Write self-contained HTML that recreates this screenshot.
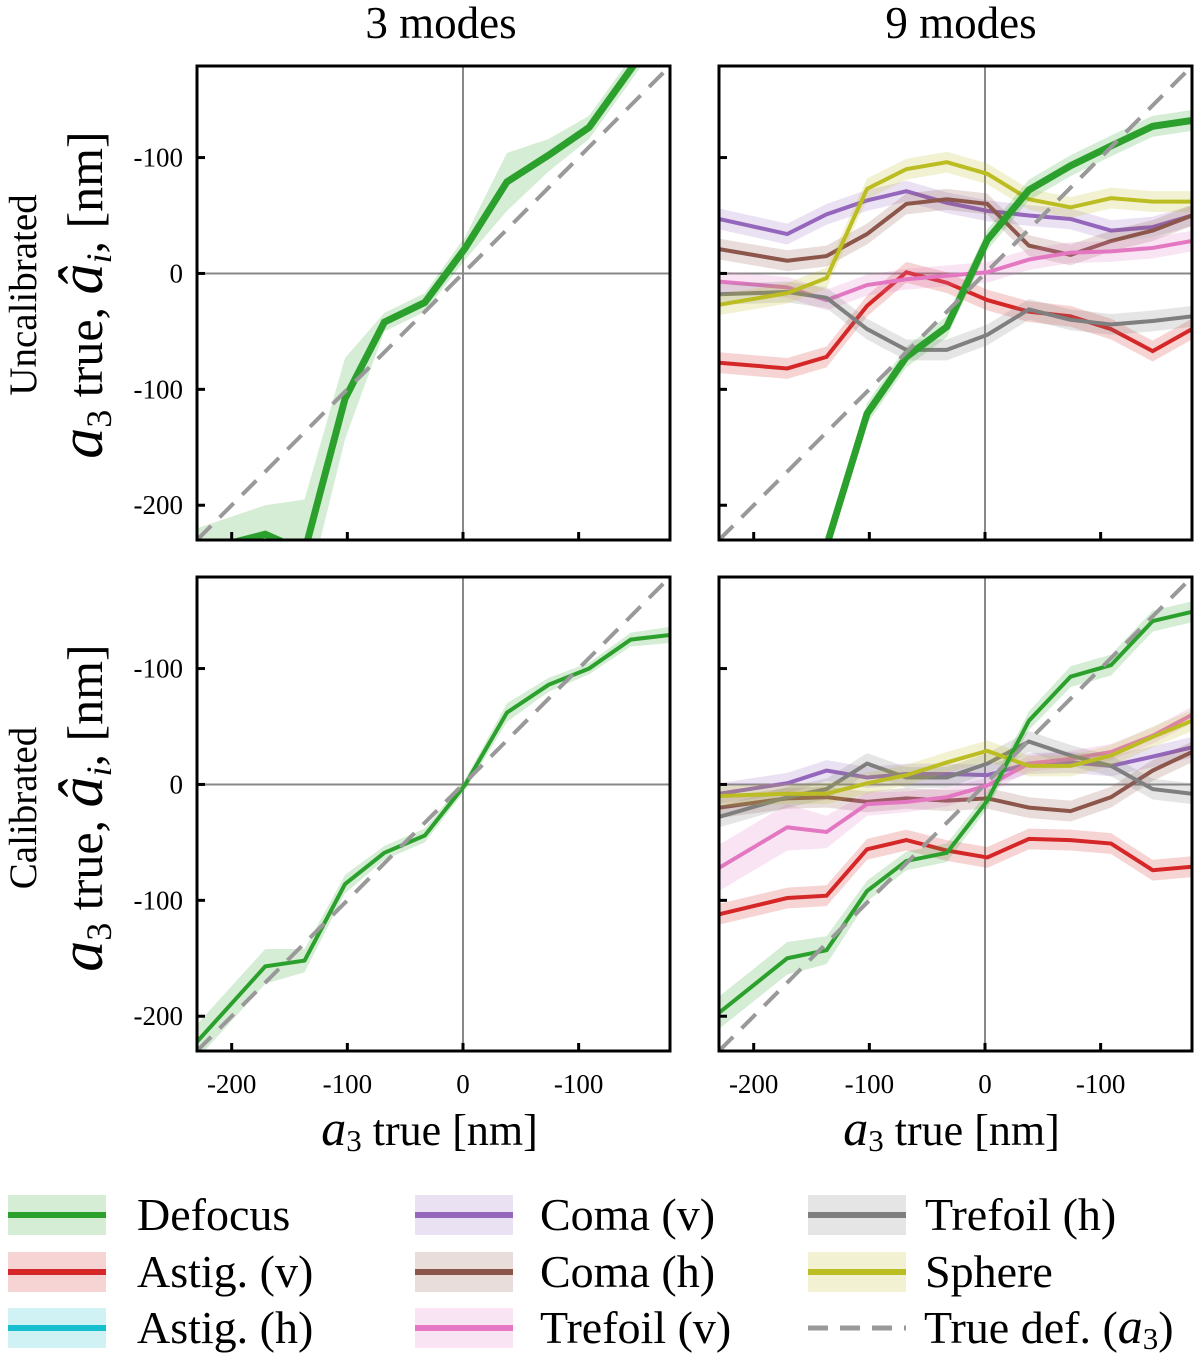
<!DOCTYPE html>
<html><head><meta charset="utf-8">
<style>
body{margin:0;background:#fff;}
svg{display:block;font-family:"Liberation Serif",serif;}
</style></head>
<body>
<svg id="fig" width="1200" height="1357" viewBox="0 0 1200 1357"></svg>
<script>
const xs = [-230,-171,-137,-102,-68,-33,2,38,74,109,145,179];
const xTickVals = [-200,-100,0,100];
const xTickLabels = ["-200","-100","0","-100"];
const yTickVals = [100,0,-100,-200];
const yTickLabels = ["-100","0","-100","-200"];
// Top-left (3 modes, uncalibrated)
const tl_defocus = [-240,-225,-240,-108,-42,-25,22,79,102,126,176,225];
const tl_defocus_sd = [20,25,45,35,8,8,10,25,14,10,10,10];
// Bottom-left (3 modes, calibrated)
const bl_defocus = [-222,-157,-152,-86,-59,-44,0,62,86,100,125,129];
const bl_defocus_sd = [15,15,10,8,6,6,5,8,6,5,6,7];
// Top-right (9 modes, uncalibrated)
const tr_defocus = [-400,-330,-235,-121,-72,-46,29,72,93,110,127,132];
const tr_astigv = [-77,-82,-72,-28,1,-8,-23,-33,-37,-48,-67,-48];
const tr_comav = [47,34,51,63,71,61,54,50,47,37,40,50];
const tr_comah = [21,11,15,34,60,64,60,24,16,28,37,50];
const tr_trefv = [-7,-12,-23,-10,-5,-2,1,12,18,19,22,28];
const tr_trefh = [-18,-16,-21,-48,-66,-66,-53,-31,-40,-44,-41,-37];
const tr_sphere = [-27,-17,-4,73,90,96,86,64,57,65,62,62];
// Bottom-right (9 modes, calibrated)
const br_defocus = [-197,-150,-143,-92,-66,-59,-14,55,93,103,141,149];
const br_astigv = [-112,-98,-96,-56,-48,-57,-63,-47,-48,-51,-74,-71];
const br_comav = [-8,1,12,6,9,9,8,18,19,16,24,32];
const br_comah = [-20,-12,-11,-15,-12,-14,-12,-20,-23,-11,12,28];
const br_trefv = [-72,-37,-41,-17,-15,-11,-1,18,22,28,42,60];
const br_trefh = [-28,-11,-4,18,6,6,18,37,25,16,-4,-8];
const br_sphere = [-10,-8,-8,1,8,19,29,16,16,25,41,55];
const sdSmall = [9,9,9,9,9,9,9,9,9,9,9,9];

const C = {def:"#2ca02c",av:"#d62728",ah:"#17becf",cv:"#9467bd",ch:"#8c564b",tv:"#e377c2",th:"#7f7f7f",sp:"#bcbd22"};
const NS="http://www.w3.org/2000/svg";
const svg=document.getElementById('fig');
function mk(tag,attrs,parent){const e=document.createElementNS(NS,tag);for(const k in attrs)e.setAttribute(k,attrs[k]);(parent||svg).appendChild(e);return e;}

const DMIN=-230,DMAX=179;
const panels=[
 {id:"tl",x0:197,y0:66,series:[["def",tl_defocus,tl_defocus_sd,7]]},
 {id:"tr",x0:719,y0:66,series:[["av",tr_astigv,sdSmall,4],["cv",tr_comav,sdSmall,4],["ch",tr_comah,sdSmall,4],["tv",tr_trefv,sdSmall,4],["th",tr_trefh,sdSmall,4],["sp",tr_sphere,sdSmall,4],["def",tr_defocus,sdSmall,7]]},
 {id:"bl",x0:197,y0:577,series:[["def",bl_defocus,bl_defocus_sd,4]]},
 {id:"br",x0:719,y0:577,series:[["av",br_astigv,sdSmall,4],["cv",br_comav,sdSmall,4],["ch",br_comah,sdSmall,4],["tv",br_trefv,[20,20,14,10,9,8,7,7,7,7,7,7],4],["th",br_trefh,sdSmall,4],["sp",br_sphere,sdSmall,4],["def",br_defocus,[14,14,12,9,8,8,7,8,9,9,9,9],4]]}
];
const W=473,H=474;
panels.forEach(p=>{
  const sx=v=>p.x0+(v-DMIN)/(DMAX-DMIN)*W;
  const sy=v=>p.y0+H-(v-DMIN)/(DMAX-DMIN)*H;
  const g=mk('g',{});
  
  
  const cp=mk('clipPath',{id:'clip-'+p.id},g);
  mk('rect',{x:p.x0,y:p.y0,width:W,height:H},cp);
  const inner=mk('g',{'clip-path':'url(#clip-'+p.id+')'},g);
  const zx=mk('line',{x1:sx(0),x2:sx(0),y1:p.y0,y2:p.y0+H,stroke:"#888","stroke-width":2},inner);
  
  const zy=mk('line',{x1:p.x0,x2:p.x0+W,y1:sy(0),y2:sy(0),stroke:"#888","stroke-width":2},inner);
  
  p.series.forEach(([k,vals,sd,lw])=>{
    let up=xs.map((x,i)=>sx(x)+','+sy(vals[i]+sd[i])).join(' ');
    let dn=xs.map((x,i)=>sx(x)+','+sy(vals[i]-sd[i])).reverse().join(' ');
    const band=mk('polygon',{points:up+' '+dn,fill:C[k],'fill-opacity':0.2},inner);
    
    
    const ln=mk('polyline',{points:xs.map((x,i)=>sx(x)+','+sy(vals[i])).join(' '),fill:'none',stroke:C[k],'stroke-width':lw,'stroke-linejoin':'miter'},inner);
    
    
  });
  const dl=mk('line',{x1:sx(DMIN),y1:sy(DMIN),x2:sx(DMAX),y2:sy(DMAX),stroke:"#999","stroke-width":4,'stroke-dasharray':'20 12'},inner);
  
  
  xTickVals.forEach(v=>{const t=mk('line',{x1:sx(v),x2:sx(v),y1:p.y0+H,y2:p.y0+H-8,stroke:"#000","stroke-width":3},g);});
  yTickVals.forEach(v=>{const t=mk('line',{x1:p.x0,x2:p.x0+8,y1:sy(v),y2:sy(v),stroke:"#000","stroke-width":3},g);});
  const fr=mk('rect',{x:p.x0,y:p.y0,width:W,height:H,fill:'none',stroke:'#000','stroke-width':3},g);
  
  if(p.id==='tl'||p.id==='bl'){
    yTickVals.forEach((v,i)=>{const t=mk('text',{x:p.x0-14,y:sy(v)+9,'font-size':27,'text-anchor':'end'},g);t.textContent=yTickLabels[i];});
  }
  if(p.id==='bl'||p.id==='br'){
    xTickVals.forEach((v,i)=>{const t=mk('text',{x:sx(v),y:p.y0+H+42,'font-size':27,'text-anchor':'middle'},g);t.textContent=xTickLabels[i];});
    const xl=mk('text',{x:p.x0+W/2-4,y:p.y0+H+94,'font-size':44,'text-anchor':'middle'},g);
    xl.innerHTML='<tspan font-style="italic" font-size="50">a</tspan><tspan font-size="31" dy="6">3</tspan><tspan dy="-6"> true [nm]</tspan>';
    
    
  }
});
// titles
[["3 modes",441],["9 modes",961]].forEach(([t,x])=>{const e=mk('text',{x:x,y:38,'font-size':45,'text-anchor':'middle'});e.textContent=t;});
// y labels
[["Uncalibrated",295],["Calibrated",808]].forEach(([t,cy])=>{
  const e=mk('text',{x:0,y:0,'font-size':39,'text-anchor':'middle',transform:`translate(36,${cy}) rotate(-90)`});
  e.textContent=t;
  const m=mk('text',{x:0,y:0,'font-size':50,'text-anchor':'middle',transform:`translate(102,${cy}) rotate(-90)`});
  m.innerHTML='<tspan font-style="italic" font-size="62">a</tspan><tspan font-size="36" dy="9">3</tspan><tspan dy="-9"> true, </tspan><tspan font-style="italic" font-size="62">â</tspan><tspan font-style="italic" font-size="36" dy="9">i</tspan><tspan dy="-9">, [nm]</tspan>';
  
});
// legend
const legItems=[["Defocus","def",8,137,1215],["Astig. (v)","av",8,137,1272],["Astig. (h)","ah",8,137,1328],
 ["Coma (v)","cv",415,540,1215],["Coma (h)","ch",415,540,1272],["Trefoil (v)","tv",415,540,1328],
 ["Trefoil (h)","th",808,925,1215],["Sphere","sp",808,925,1272]];
legItems.forEach(([t,k,x,tx,y])=>{
  const g=mk('g',{});
  
  
  mk('rect',{x:x,y:y-20,width:98,height:40,fill:C[k],'fill-opacity':0.2},g);
  mk('line',{x1:x,x2:x+98,y1:y,y2:y,stroke:C[k],'stroke-width':6},g);
  const e=mk('text',{x:tx,y:y+15,'font-size':46},g);e.textContent=t;
});
const lg=mk('g',{});


mk('line',{x1:808,x2:906,y1:1328,y2:1328,stroke:"#999","stroke-width":5,'stroke-dasharray':'20 12'},lg);
const le=mk('text',{x:924,y:1343,'font-size':46},lg);
le.innerHTML='True def. (<tspan font-style="italic" font-size="50">a</tspan><tspan font-size="31" dy="6">3</tspan><tspan dy="-6">)</tspan>';
</script>
</body></html>
